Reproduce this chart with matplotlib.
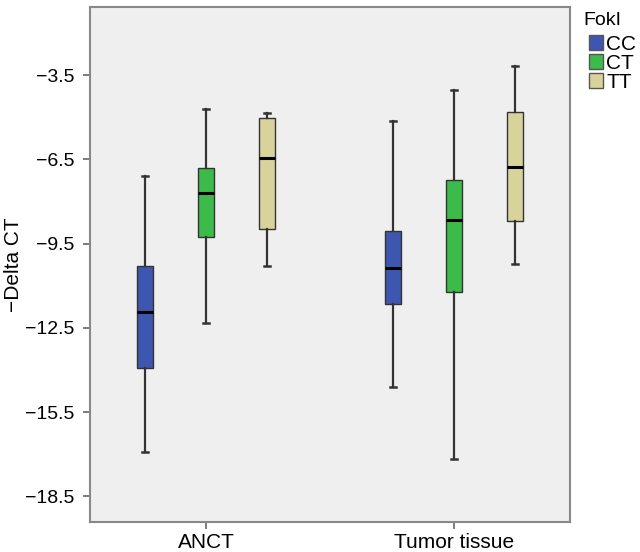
import numpy as np
import matplotlib.pyplot as plt
from matplotlib.patches import Patch

plt.rcParams['font.family'] = ['Liberation Sans', 'DejaVu Sans']

groups = ['ANCT', 'Tumor tissue']
genotypes = ['CC', 'CT', 'TT']
colors = ['#3d57b0', '#3cba4a', '#d8d39b']

# per genotype: [ANCT, Tumor tissue]
whislo = {'CC': [-16.93, -14.59], 'CT': [-12.31, -17.18], 'TT': [-10.29, -10.23]}
q1 = {'CC': [-13.92, -11.66], 'CT': [-9.28, -11.22], 'TT': [-8.99, -8.68]}
med = {'CC': [-11.94, -10.36], 'CT': [-7.69, -8.67], 'TT': [-6.46, -6.76]}
q3 = {'CC': [-10.29, -9.04], 'CT': [-6.80, -7.25], 'TT': [-5.04, -4.81]}
whishi = {'CC': [-7.09, -5.13], 'CT': [-4.72, -4.05], 'TT': [-4.86, -3.19]}

yticks = [-3.5, -6.5, -9.5, -12.5, -15.5, -18.5]

fig = plt.figure(figsize=(6.4, 5.52), dpi=100)
ax = fig.add_axes([0.1406, 0.0543, 0.75, 0.933])
ax.set_facecolor('#efefef')

offsets = [-0.246, 0.0, 0.246]
for g, off, col in zip(genotypes, offsets, colors):
    stats = []
    for i in range(len(groups)):
        stats.append(dict(whislo=whislo[g][i], q1=q1[g][i], med=med[g][i],
                          q3=q3[g][i], whishi=whishi[g][i], fliers=[]))
    pos = np.arange(len(groups)) + off
    ax.bxp(stats, positions=pos, widths=0.062, patch_artist=True,
           showfliers=False, capwidths=0.022,
           boxprops=dict(facecolor=col, edgecolor='#333333', linewidth=1.0),
           medianprops=dict(color='black', linewidth=2.2),
           whiskerprops=dict(color='#333333', linewidth=1.6),
           capprops=dict(color='#333333', linewidth=1.8))

ax.set_xlim(-0.468, 1.468)
ax.set_ylim(-19.41, -1.08)
ax.set_xticks(np.arange(len(groups)))
ax.set_xticklabels(groups, fontsize=15)
ax.set_yticks(yticks)
ax.set_yticklabels([f'\u2212{abs(v):.1f}' for v in yticks], fontsize=14)
ax.set_ylabel('\u2212Delta CT', fontsize=15, labelpad=2)

for s in ax.spines.values():
    s.set_color('#888888')
    s.set_linewidth(1.5)
ax.tick_params(axis='both', direction='out', length=5, width=1.2, color='#666666')
ax.tick_params(axis='y', pad=6)
ax.tick_params(axis='x', pad=3)

# legend title as separate text, entries below it
fig.text(0.912, 0.962, 'FokI', fontsize=14, va='center', ha='left')
handles = [Patch(facecolor=c, edgecolor='#555555', label=g) for g, c in zip(genotypes, colors)]
fig.legend(handles=handles, loc='upper left',
           bbox_to_anchor=(0.921, 0.937), frameon=False, fontsize=15,
           handlelength=0.65, handleheight=0.7,
           handletextpad=0.15, labelspacing=0.0, borderaxespad=0, borderpad=0)

fig.savefig('out.png', dpi=100)
